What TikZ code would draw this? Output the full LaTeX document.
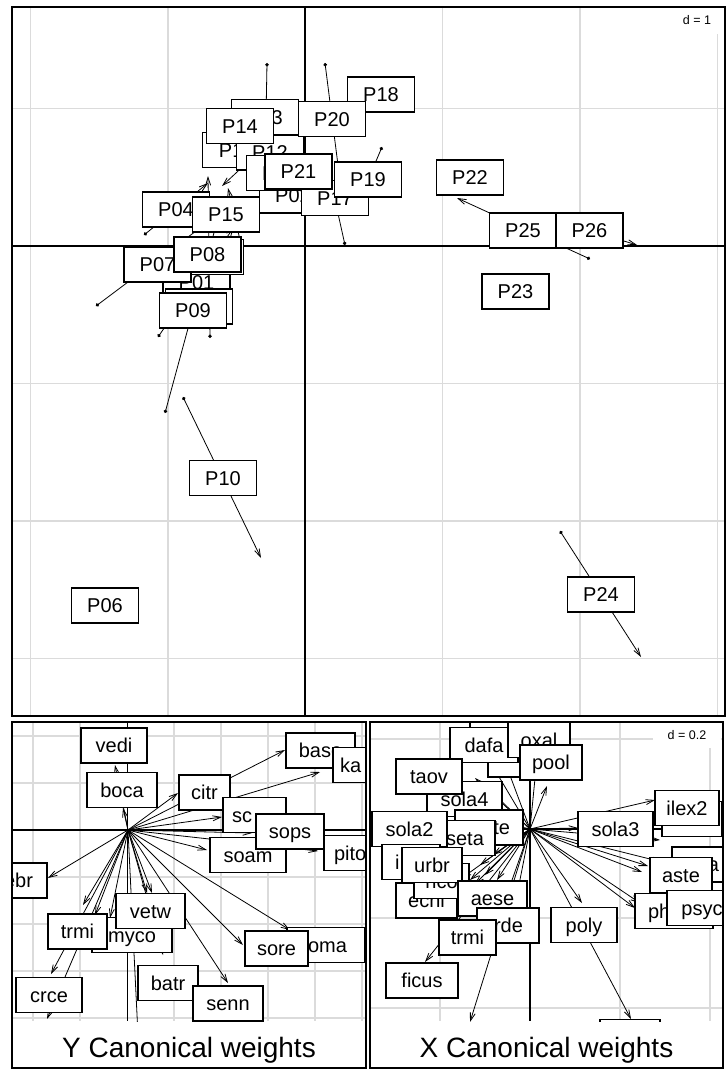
\documentclass[tikz,border=0pt]{standalone}
\usepackage{fontspec}
\setmainfont{Liberation Sans}
\setsansfont{Liberation Sans}
\usetikzlibrary{arrows.meta}

\tikzset{
	lab/.style={draw, line width=1.6pt, fill=white, inner sep=0pt, minimum height=35pt,
		text height=14.5pt, text depth=0pt, font=\sffamily\fontsize{20}{20}\selectfont},
	vec/.style={line width=0.8pt, -{Straight Barb[length=8pt,width=5pt]}},
	match/.style={line width=0.8pt, {Circle[length=3.5pt]}-{Straight Barb[length=8pt,width=5pt]}},
	gridline/.style={black!14, line width=1.4pt},
	axisline/.style={line width=1.2pt},
	panel/.style={line width=1.8pt},
	scalelab/.style={fill=white, inner sep=0pt, font=\sffamily\fontsize{12.5}{13}\selectfont},
	title/.style={font=\sffamily\fontsize{28}{30}\selectfont},
}

\begin{document}
\begin{tikzpicture}[x=1pt, y=-1pt, font=\sffamily]
	\useasboundingbox (0,0) rectangle (728,1079);

	% sites, matched
	\begin{scope}
		\clip (12,7) rectangle (725,716);
		\foreach \gx in {30.5,168,442.5,580,717.5}
			\draw[gridline] (\gx,7) -- (\gx,716);
		\foreach \gy in {108.5,383.5,521,658.5}
			\draw[gridline] (12,\gy) -- (725,\gy);
		\draw[axisline] (305,7) -- (305,716);
		\draw[axisline] (12,246) -- (725,246);
		\foreach \ax/\ay/\bx/\by in {183/397/261/558, 560/531/641/657, 590/259/457/198, 542/216/637/245,
				165/413/221/207, 96/306/208/222, 144/235/208/183, 267/63/265/171, 325/63/339/173,
				345/245/325/155, 382/147/354/213, 210/338/208/176, 158/337/234/227,
				240/240/228/188, 250/160/222/186}
			\draw[match] (\ax,\ay) -- (\bx,\by);
		\foreach \nm/\cx/\cy in {P01/196.5/282.5, P02/293/195.5, P03/199/306.5, P04/176/209.5,
				P05/210/257, P06/105/605.5, P07/157.5/264.5, P08/207.5/254.5, P09/193/310.5,
				P10/223/478, P11/236/150, P12/270/152.5, P13/265/117, P14/240/126,
				P15/226/214.5, P16/280/173, P17/335/198, P18/381/94.5, P19/368/179.5,
				P20/332/119, P21/298.5/171.5, P22/470/177.5, P23/515.5/291.5,
				P24/601/594.5, P25/523/230.5, P26/589.5/230.5}
			\node[lab, minimum width=67pt] (\nm) at (\cx,\cy) {\nm};
		\node[scalelab, minimum width=48pt, minimum height=28pt] (d1) at (697,20) {d = 1};
	\end{scope}
	\draw[panel] (12,7) rectangle (725,716);

	% Y canonical weights
	\coordinate (oY) at (128,830);
	\begin{scope}
		\clip (12,722) rectangle (366,1021);
		\foreach \gx in {33,80,174,221,268,315,362}
			\draw[gridline] (\gx,722) -- (\gx,1021);
		\foreach \gy in {736,783,877,924,971,1018}
			\draw[gridline] (12,\gy) -- (366,\gy);
		\draw[axisline] (127.5,722) -- (127.5,1021);
		\draw[axisline] (12,830) -- (366,830);
		\foreach \ex/\ey in {115/765, 123/808, 178/793, 285/750, 320/772, 222/817, 252/833,
				207/850, 318/851, 48/878, 83/905, 95/915, 51/974, 47/1019, 138/1035,
				147/893, 152/893, 163/955, 228/983, 243/945, 290/930, 110/918}
			\draw[vec] (oY) -- (\ex,\ey);
		\node[lab, minimum width=66pt] (yvedi) at (114,745.5) {vedi};
		\node[lab, minimum width=70pt] (yboca) at (122,790) {boca};
		\node[lab, minimum width=51pt] (ycitr) at (204.5,792.5) {citr};
		\node[lab, minimum width=69pt] (ybase) at (320.5,750.5) {base};
		\node[lab, inner xsep=7pt, text width=56pt, align=left] (yka) at (368,765) {ka};
		\node[lab, inner xsep=9pt, text width=45pt, align=left] (ysc) at (254.5,815) {sc};
		\node[lab, minimum width=76pt] (ysoam) at (248,855) {soam};
		\node[lab, inner xsep=10pt, text width=50pt, align=left] (ypito) at (359,853) {pito};
		\node[lab, minimum width=68pt] (ysops) at (290,831.5) {sops};
		\node[lab, inner xsep=14pt, text width=38pt, align=right] (yebr) at (14,880.5) {ebr};
		\node[lab, minimum width=80pt] (ymyco) at (132,935) {myco};
		\node[lab, minimum width=59pt] (ytrmi) at (77.5,931.5) {trmi};
		\node[lab, minimum width=69pt] (yvetw) at (150.5,911) {vetw};
		\node[lab, inner xsep=18pt, text width=42pt, align=right] (yoma) at (326,945) {oma};
		\node[lab, minimum width=63pt] (ysore) at (276.5,948.5) {sore};
		\node[lab, minimum width=66pt] (ycrce) at (49,995) {crce};
		\node[lab, minimum width=60pt] (ybatr) at (168,983) {batr};
		\node[lab, minimum width=70pt] (ysenn) at (228,1003.5) {senn};
	\end{scope}
	\draw[panel] (12,722) rectangle (366,1068);
	\node[title] (ytitle) at (189,1050) {Y Canonical weights};

	% X canonical weights
	\coordinate (oX) at (530,829);
	\begin{scope}
		\clip (370,722) rectangle (723,1021);
		\foreach \gx in {440,620,710}
			\draw[gridline] (\gx,722) -- (\gx,1021);
		\foreach \gy in {739,918,1008}
			\draw[gridline] (370,\gy) -- (723,\gy);
		\draw[axisline] (530,722) -- (530,1021);
		\draw[axisline] (370,829) -- (723,829);
		\foreach \ex/\ey in {547/786, 540/728, 505/762, 470/728, 475/778, 490/790, 578/828,
				655/800, 660/840, 642/872, 648/866, 662/862, 635/908, 640/903, 582/903,
				631/1019, 470/1022, 425/962, 493/855, 480/865, 470/880, 462/878, 485/875,
				475/884, 497/880, 505/900, 515/905, 455/828, 470/815}
			\draw[vec] (oX) -- (\ex,\ey);
		\node[lab, minimum width=70pt] (xtop) at (505,712) {};
		\node[lab, minimum width=62pt] (xback) at (519,759.5) {};
		\node[lab, minimum width=68pt] (xdafa) at (484,745) {dafa};
		\node[lab, minimum width=62pt] (xoxal) at (539,740) {oxal};
		\node[lab, minimum width=62pt] (xpool) at (551,762.5) {pool};
		\node[lab, minimum width=75pt] (xsola4) at (464.5,799) {sola4};
		\node[lab, minimum width=66pt] (xtaov) at (429,776.5) {taov};
		\node[lab, inner xsep=13pt, text width=42pt, align=right] (xte) at (489,827.5) {te};
		\node[lab, minimum width=60pt] (xseta) at (465,838) {seta};
		\node[lab, minimum width=75pt] (xsola2) at (409.5,829) {sola2};
		\node[lab, inner xsep=13pt, text width=32pt, align=left] (xi) at (411,862) {i};
		\node[lab, minimum width=61pt] (xechi) at (426.5,900.5) {echi};
		\node[lab, minimum width=55pt] (xnco) at (441.5,881) {nco};
		\node[lab, minimum width=60pt] (xurbr) at (432,865) {urbr};
		\node[lab, minimum width=69pt] (xaese) at (492.5,898.5) {aese};
		\node[lab, inner xsep=17pt, text width=28pt, align=right] (xrde) at (508,925.5) {rde};
		\node[lab, minimum width=57pt] (xtrmi) at (467.5,937.5) {trmi};
		\node[lab, minimum width=72pt] (xficus) at (422,980.5) {ficus};
		\node[lab, minimum width=66pt] (xpoly) at (584,925) {poly};
		\node[lab, minimum width=60pt] (xlow) at (630,1037) {};
		\node[lab, minimum width=75pt] (xsola3) at (615.5,829) {sola3};
		\node[lab, minimum width=60pt] (xilex1) at (692,819) {};
		\node[lab, minimum width=64pt] (xilex2) at (687,808) {ilex2};
		\node[lab, inner xsep=21pt, text width=26pt, align=right] (xa) at (706,864.5) {a};
		\node[lab, minimum width=62pt] (xaste) at (681,875) {aste};
		\node[lab, inner xsep=13pt, text width=52pt, align=left] (xph) at (674,911) {ph};
		\node[lab, minimum width=70pt] (xpsyc) at (702,908) {psyc};
		\node[scalelab, minimum width=68pt, minimum height=26pt] (d2) at (687,735) {d = 0.2};
	\end{scope}
	\draw[panel] (370,722) rectangle (723,1068);
	\node[title] (xtitle) at (546.5,1050) {X Canonical weights};
\end{tikzpicture}
\end{document}
